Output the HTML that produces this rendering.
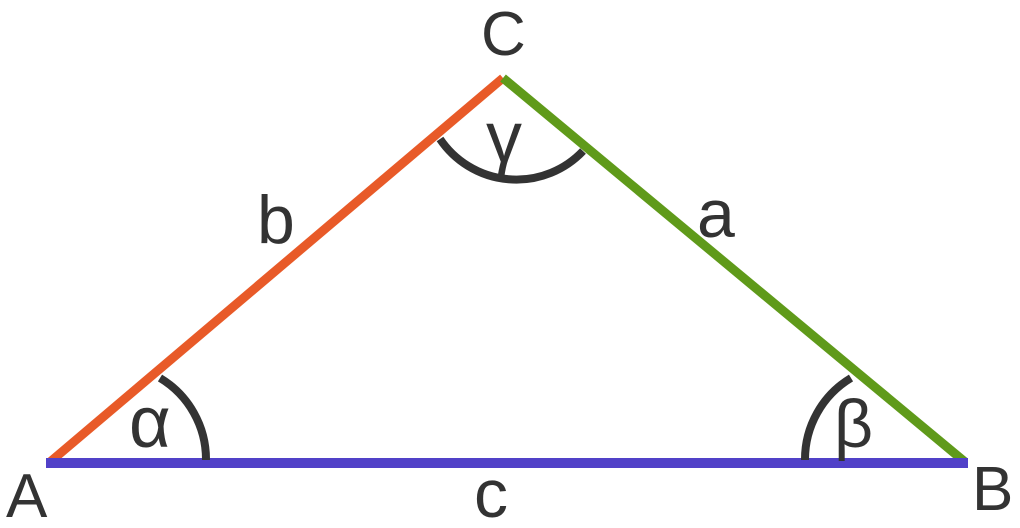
<!DOCTYPE html>
<html><head><meta charset="utf-8"><style>
html,body{margin:0;padding:0;background:#fff;}
svg{display:block}
text{font-family:"Liberation Sans",sans-serif;fill:#333;}
</style></head><body>
<svg width="1020" height="528" viewBox="0 0 1020 528" xmlns="http://www.w3.org/2000/svg">
<line x1="50" y1="462" x2="503" y2="78" stroke="#e85a28" stroke-width="9"/>
<line x1="503" y1="78" x2="965" y2="462" stroke="#5f9a1a" stroke-width="9"/>
<line x1="46" y1="463" x2="968" y2="463" stroke="#5141c8" stroke-width="10"/>
<path d="M206 460 A95 95 0 0 0 160 378" fill="none" stroke="#333" stroke-width="8"/>
<path d="M805 460 A95 95 0 0 1 851 378" fill="none" stroke="#333" stroke-width="8"/>
<path d="M440 139 A92 92 0 0 0 583 151" fill="none" stroke="#333" stroke-width="8"/>
<text x="481" y="55" font-size="62">C</text>
<text x="6" y="517" font-size="62">A</text>
<text x="972" y="510" font-size="62">B</text>
<text x="474" y="517" font-size="68">c</text>
<text x="257" y="243" font-size="68">b</text>
<text x="697" y="237" font-size="68">a</text>
<text x="129" y="447" font-size="72">α</text>
<text x="834" y="447" font-size="68">β</text>
<text x="486" y="162" font-size="72">γ</text>
</svg>
</body></html>
